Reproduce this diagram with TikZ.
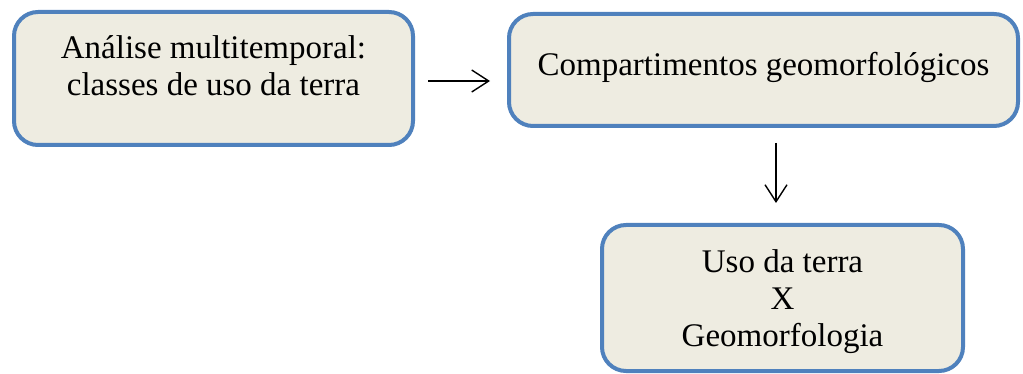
\documentclass[tikz,border=0pt]{standalone}
\usepackage{fontspec}
\setmainfont{Liberation Serif}
\usetikzlibrary{arrows.meta}
\definecolor{boxblue}{HTML}{4F81BD}
\definecolor{boxfill}{HTML}{EEECE1}
\tikzset{
 stepbox/.style={draw=boxblue, fill=boxfill, line width=4pt, rounded corners=24pt,
  align=center, font=\fontsize{33}{37}\selectfont},
 flow/.style={black, line width=1.4pt, -{Straight Barb[length=17pt,width=22pt]}}
}
\begin{document}
\begin{tikzpicture}[x=1pt,y=-1pt]
\useasboundingbox (0,0) rectangle (1023,374);
\node[stepbox, minimum width=399pt, minimum height=133pt, text depth=26pt] (analise) at (213.5,78.5)
 {Análise multitemporal:\\classes de uso da terra};
\node[stepbox, minimum width=509pt, minimum height=112pt, text depth=13pt] (compart) at (763.5,70)
 {Compartimentos geomorfológicos};
\node[stepbox, minimum width=361pt, minimum height=146pt, text depth=0pt] (usoterra) at (782.5,298)
 {Uso da terra\\X\\Geomorfologia};
% connectors
\coordinate (a1) at (428,81);
\coordinate (a2) at (776,143);
\draw[flow] (a1) -- ([xshift=-17pt]a1 -| compart.west);
\draw[flow] (a2) -- ([yshift=20pt]a2 |- usoterra.north);
\end{tikzpicture}
\end{document}
